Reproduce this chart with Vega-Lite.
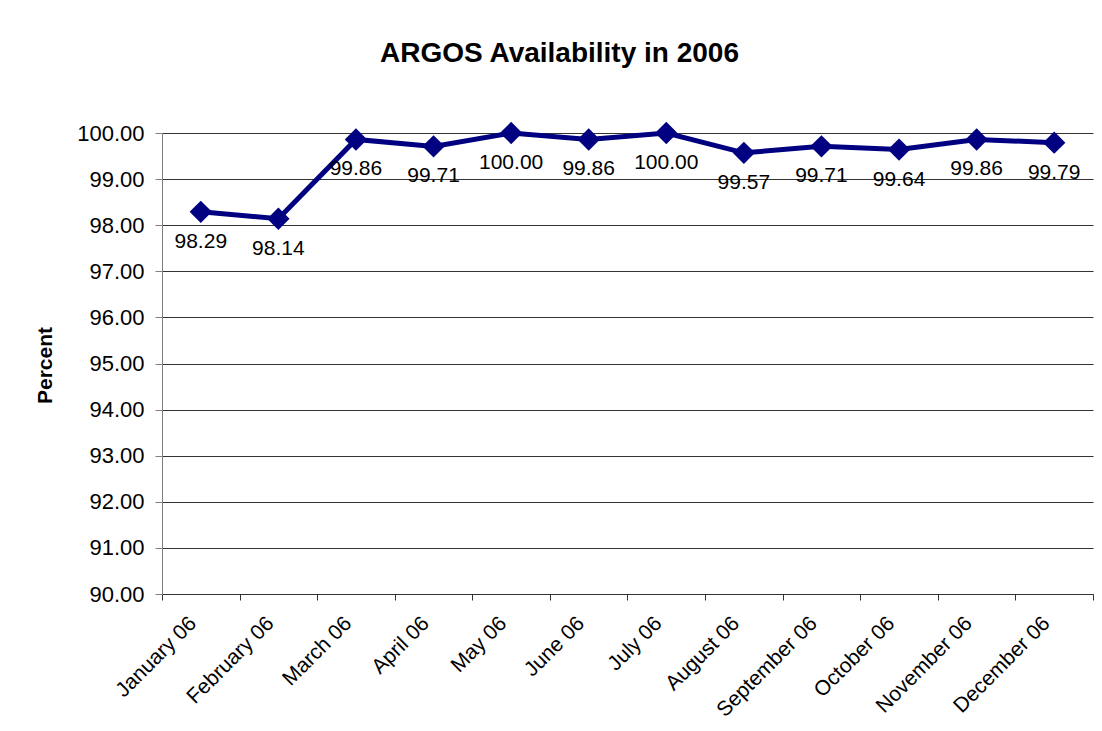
{
  "$schema": "https://vega.github.io/schema/vega-lite/v6.json",
  "width": 931,
  "height": 461,
  "autosize": {"type": "none"},
  "padding": {"left": 162, "top": 133, "right": 9, "bottom": 137},
  "background": "white",
  "title": {
    "text": "ARGOS Availability in 2006",
    "font": "Liberation Sans",
    "fontSize": 28,
    "fontWeight": "bold",
    "color": "black",
    "anchor": "middle",
    "baseline": "alphabetic",
    "dx": -68,
    "offset": 32
  },
  "data": {
    "values": [
      {"month": "January 06", "value": 98.29},
      {"month": "February 06", "value": 98.14},
      {"month": "March 06", "value": 99.86},
      {"month": "April 06", "value": 99.71},
      {"month": "May 06", "value": 100.00},
      {"month": "June 06", "value": 99.86},
      {"month": "July 06", "value": 100.00},
      {"month": "August 06", "value": 99.57},
      {"month": "September 06", "value": 99.71},
      {"month": "October 06", "value": 99.64},
      {"month": "November 06", "value": 99.86},
      {"month": "December 06", "value": 99.79}
    ]
  },
  "encoding": {
    "x": {
      "field": "month",
      "type": "ordinal",
      "sort": null,
      "scale": {"paddingInner": 0, "paddingOuter": 0},
      "axis": {
        "title": null,
        "labelAngle": -45,
        "labelAlign": "right",
        "labelBaseline": "middle",
        "labelFont": "Liberation Sans",
        "labelFontSize": 21,
        "labelColor": "black",
        "labelPadding": 20,
        "labelOffset": -8,
        "tickBand": "extent",
        "tickSize": 6,
        "tickColor": "#333333",
        "domainColor": "#333333",
        "grid": false
      }
    },
    "y": {
      "field": "value",
      "type": "quantitative",
      "scale": {"domain": [90, 100], "nice": false, "zero": false},
      "axis": {
        "title": "Percent",
        "titleFont": "Liberation Sans",
        "titleFontSize": 21,
        "titleFontWeight": "bold",
        "titleColor": "black",
        "titleX": -117,
        "titleY": 232,
        "titleAngle": -90,
        "titleAlign": "center",
        "titleBaseline": "middle",
        "values": [90, 91, 92, 93, 94, 95, 96, 97, 98, 99, 100],
        "format": ".2f",
        "labelFont": "Liberation Sans",
        "labelFontSize": 22,
        "labelColor": "black",
        "labelPadding": 11,
        "tickSize": 7,
        "tickColor": "#808080",
        "domainColor": "#808080",
        "grid": true,
        "gridColor": "#333333",
        "gridWidth": 1
      }
    }
  },
  "layer": [
    {"mark": {"type": "line", "color": "#000080", "strokeWidth": 5}},
    {"mark": {"type": "point", "shape": "diamond", "filled": true, "size": 500, "color": "#000080", "opacity": 1}},
    {
      "mark": {"type": "text", "dy": 30, "font": "Liberation Sans", "fontSize": 21, "color": "black", "baseline": "middle"},
      "encoding": {"text": {"field": "value", "type": "quantitative", "format": ".2f"}}
    }
  ],
  "config": {"view": {"stroke": null}}
}
